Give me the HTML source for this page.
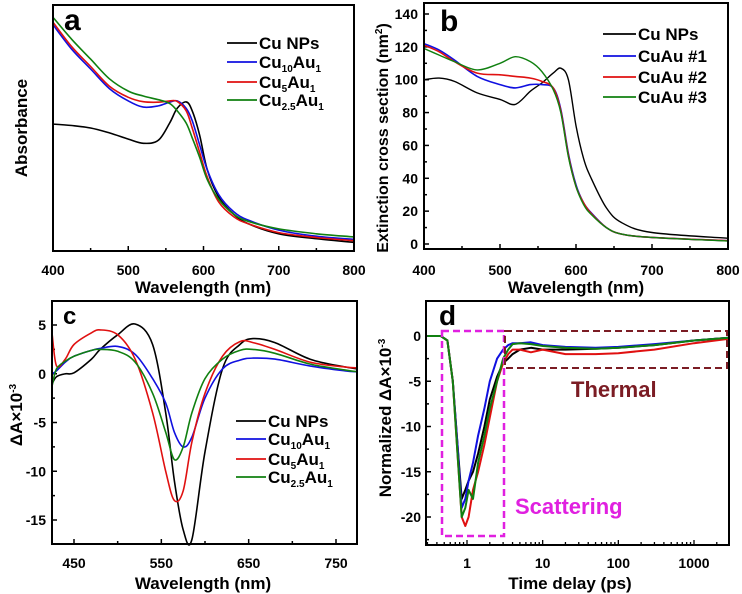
<!DOCTYPE html>
<html><head><meta charset="utf-8"><style>
html,body{margin:0;padding:0;background:#fff;}
svg{display:block;font-family:"Liberation Sans",Arial,sans-serif;font-weight:bold;}
</style></head><body>
<svg id="fig" width="742" height="594" viewBox="0 0 742 594" xmlns="http://www.w3.org/2000/svg"></svg>
<script>
// ---------- Panel a data ----------
const aWl=[400,425,450,475,500,520,540,555,565,577,585,595,605,620,640,660,700,750,800];
const aCu=[0.516,0.51,0.50,0.48,0.455,0.438,0.45,0.52,0.58,0.606,0.57,0.47,0.33,0.22,0.15,0.11,0.07,0.05,0.035];
const aCu10=[0.92,0.82,0.74,0.66,0.61,0.585,0.59,0.605,0.61,0.58,0.53,0.43,0.33,0.23,0.16,0.125,0.085,0.06,0.047];
const aCu5=[0.93,0.83,0.75,0.67,0.625,0.607,0.605,0.61,0.608,0.57,0.50,0.40,0.30,0.20,0.14,0.11,0.075,0.055,0.042];
const aCu25=[0.95,0.86,0.78,0.70,0.65,0.63,0.615,0.60,0.57,0.52,0.46,0.38,0.29,0.21,0.15,0.12,0.09,0.07,0.057];
const aTicks=[400,500,600,700,800];
// ---------- Panel b data ----------
const bWl=[400,420,440,470,500,520,540,555,570,580,590,600,610,620,640,660,700,800];
const bCu=[100,101,99,92,88,85,93,98,104,107,100,72,52,40,22,13,7,3.5];
const bAu1=[122,118,112,102,97,95,97,97,95,82,55,36,25,19,10,6,4,2];
const bAu2=[121,117,111,104,103,102,101,99,95,81,54,35,25,18.5,10,6,4,2];
const bAu3=[119,115,111,106,110,114,111,105,94,80,53,35,24,18,10,6,4,1.8];
const bXTicks=[400,500,600,700,800];
const bYTicks=[0,20,40,60,80,100,120,140];
// ---------- Panel c data ----------
const cWl=[425,430,440,450,470,480,500,520,540,555,565,575,585,600,620,640,655,680,720,760,775];
const cCu=[-1,-0.3,0,0.1,1.5,2.5,4,5.1,3,-4,-11,-16,-17,-8,0.5,3,3.6,3.2,1.5,0.7,0.5];
const cCu10=[0,0.3,1.2,1.8,2.4,2.6,2.8,2,-0.5,-3,-6,-7.5,-6.5,-2.5,0.5,1.4,1.6,1.5,0.8,0.3,0.2];
const cCu5=[4,0.8,1.5,3,4.2,4.5,4,1.5,-4,-10,-13,-12,-7,-2,1.8,3.3,3.2,2.5,1.2,0.7,0.6];
const cCu25=[-1.2,0.5,1.3,1.8,2.4,2.5,2.3,1.2,-2,-6,-8.8,-7.5,-4,-0.5,1.5,2.4,2.5,2.1,1.0,0.4,0.2];
const cXTicks=[450,550,650,750];
const cYTicks=[5,0,-5,-10,-15];
// ---------- Panel d data ----------
const dT=[0.3,0.45,0.55,0.65,0.75,0.85,0.95,1.05,1.2,1.4,1.7,2,2.5,3,3.5,4,5,7,10,20,50,100,300,1000,2900];
const dCu=[0,0,-0.5,-5,-12,-18,-17,-16,-15,-13,-10,-7,-4.5,-3,-2.5,-2,-1.5,-1.3,-1.5,-1.5,-1.4,-1.3,-1,-0.5,-0.2];
const dAu1=[0,0,-0.5,-5,-12,-19,-18,-16,-14,-11,-8,-5,-2.5,-1.5,-1,-0.8,-0.8,-0.7,-1,-1.2,-1.3,-1.2,-0.9,-0.5,-0.2];
const dAu2=[0,0,-0.5,-5,-13,-20,-21,-20,-17,-15,-12,-9,-5,-3,-2,-1.5,-1.5,-1.8,-1.5,-2,-2,-1.9,-1.5,-0.8,-0.3];
const dAu3=[0,0,-0.5,-5,-13,-20,-19,-17,-18,-14,-11,-8,-5,-2.5,-1.5,-0.9,-0.8,-0.9,-1.1,-1.3,-1.4,-1.3,-1,-0.5,-0.2];
const dXTicks=[1,10,100,1000];
const dYTicks=[0,-5,-10,-15,-20];

const NS="http://www.w3.org/2000/svg";
const svg=document.getElementById('fig');
function el(tag,attrs,parent,text){const e=document.createElementNS(NS,tag);for(const k in attrs)e.setAttribute(k,attrs[k]);if(text!==undefined)e.textContent=text;(parent||svg).appendChild(e);return e;}
function lin(d0,d1,r0,r1){return v=>r0+(v-d0)*(r1-r0)/(d1-d0);}
function logs(d0,d1,r0,r1){return v=>r0+(Math.log10(v)-Math.log10(d0))*(r1-r0)/(Math.log10(d1)-Math.log10(d0));}
function smoothPath(pts){
  let d='M'+pts[0][0].toFixed(1)+','+pts[0][1].toFixed(1);
  for(let i=0;i<pts.length-1;i++){
    const p0=pts[Math.max(0,i-1)],p1=pts[i],p2=pts[i+1],p3=pts[Math.min(pts.length-1,i+2)];
    const c1x=p1[0]+(p2[0]-p0[0])/6,c1y=p1[1]+(p2[1]-p0[1])/6;
    const c2x=p2[0]-(p3[0]-p1[0])/6,c2y=p2[1]-(p3[1]-p1[1])/6;
    d+=' C'+c1x.toFixed(1)+','+c1y.toFixed(1)+' '+c2x.toFixed(1)+','+c2y.toFixed(1)+' '+p2[0].toFixed(1)+','+p2[1].toFixed(1);
  }
  return d;
}
function series(g,xs,ys,sx,sy,color,name,w,smooth){
  const pts=xs.map((x,i)=>[sx(x),sy(ys[i])]);
  let p;
  if(smooth===false){
    p=el('polyline',{points:pts.map(q=>q[0].toFixed(1)+','+q[1].toFixed(1)).join(' '),fill:'none',stroke:color,'stroke-width':w||1.6,'stroke-linejoin':'round'},g);
  } else {
    p=el('path',{d:smoothPath(pts),fill:'none',stroke:color,'stroke-width':w||1.6,'stroke-linejoin':'round'},g);
  }
  
  
}
function frame(g,x0,y0,x1,y1){const r=el('rect',{x:x0,y:y0,width:x1-x0,height:y1-y0,fill:'none',stroke:'#000','stroke-width':2},g);}
function legend(g,items,x0,x1,ys,fs){
  items.forEach((it,i)=>{
    const lg=el('g',{},g);
    
    
    el('line',{x1:x0,x2:x1,y1:ys[i],y2:ys[i],stroke:it.c,'stroke-width':1.8},lg);
    const t=el('text',{x:x1+2,y:ys[i]+6,'font-size':fs,fill:'#000'},lg);
    it.parts.forEach(pt=>{el('tspan',pt[1]?{'font-size':10,dy:4}:{dy:pt[2]||0},t,pt[0]);});
  });
}
const black='#000',blue='#1010e0',red='#e01010',green='#108010';
const leg4=[{c:black,parts:[['Cu NPs']]},{c:blue,parts:[['Cu'],['10',1],['Au',0,-4],['1',1]]},{c:red,parts:[['Cu'],['5',1],['Au',0,-4],['1',1]]},{c:green,parts:[['Cu'],['2.5',1],['Au',0,-4],['1',1]]}];

// ===== Panel a =====
(function(){
  const g=el('g',{});
  const X0=53,X1=354,Y0=5,Y1=251;
  const sx=lin(400,800,X0,X1),sy=lin(0,1,Y1,Y0);
  for(let v=400;v<=800;v+=50){const big=v%100===0;el('line',{x1:sx(v),x2:sx(v),y1:Y1,y2:Y1-(big?5:3),stroke:'#000','stroke-width':1.5},g);}
  aTicks.forEach(v=>{const t=el('text',{x:sx(v),y:275,'font-size':14,'text-anchor':'middle'},g,v);});
  series(g,aWl,aCu,sx,sy,black,'series-cu-nps');
  series(g,aWl,aCu10,sx,sy,blue,'series-cu10au1');
  series(g,aWl,aCu5,sx,sy,red,'series-cu5au1');
  series(g,aWl,aCu25,sx,sy,green,'series-cu25au1');
  frame(g,X0,Y0,X1,Y1);
  let t=el('text',{x:203,y:293,'font-size':17,'text-anchor':'middle'},g,'Wavelength (nm)');
  t=el('text',{x:0,y:0,'font-size':17,'text-anchor':'middle',transform:'translate(27,128) rotate(-90)'},g,'Absorbance');
  t=el('text',{x:64,y:30,'font-size':30},g,'a');
  legend(g,leg4,227,257,[43,62,82,100],17);
})();

// ===== Panel b =====
(function(){
  const g=el('g',{});
  const X0=424,X1=728,Y0=3,Y1=249;
  const sx=lin(400,800,X0,X1),sy=lin(0,140,244,14);
  for(let v=400;v<=800;v+=50){const big=v%100===0;el('line',{x1:sx(v),x2:sx(v),y1:Y1,y2:Y1-(big?5:3),stroke:'#000','stroke-width':1.5},g);}
  for(let v=0;v<=140;v+=10){const big=v%20===0;el('line',{x1:X0,x2:X0+(big?5:3),y1:sy(v),y2:sy(v),stroke:'#000','stroke-width':1.5},g);}
  bXTicks.forEach(v=>{const t=el('text',{x:sx(v),y:275,'font-size':14,'text-anchor':'middle'},g,v);});
  bYTicks.forEach(v=>{const t=el('text',{x:418,y:sy(v)+5,'font-size':14,'text-anchor':'end'},g,v);});
  series(g,bWl,bCu,sx,sy,black,'series-cu-nps',1.4);
  series(g,bWl,bAu1,sx,sy,blue,'series-cuau-1');
  series(g,bWl,bAu2,sx,sy,red,'series-cuau-2');
  series(g,bWl,bAu3,sx,sy,green,'series-cuau-3',1.4);
  frame(g,X0,Y0,X1,Y1);
  let t=el('text',{x:576,y:293,'font-size':17,'text-anchor':'middle'},g,'Wavelength (nm)');
  t=el('text',{x:0,y:0,'font-size':16,'text-anchor':'middle',transform:'translate(388,138) rotate(-90)'},g);
  
  el('tspan',{},t,'Extinction cross section (nm');el('tspan',{'font-size':10,dy:-6},t,'2');el('tspan',{dy:6},t,')');
  t=el('text',{x:440,y:31,'font-size':30},g,'b');
  legend(g,[{c:black,parts:[['Cu NPs']]},{c:blue,parts:[['CuAu #1']]},{c:red,parts:[['CuAu #2']]},{c:green,parts:[['CuAu #3']]}],603,636,[34,56,77,97],17);
})();

// ===== Panel c =====
(function(){
  const g=el('g',{});
  const X0=52,X1=357,Y0=301,Y1=544;
  const sx=lin(450,750,74,336),sy=lin(5,-15,325,520);
  for(let v=450;v<=750;v+=50){const big=(v-450)%100===0;el('line',{x1:sx(v),x2:sx(v),y1:Y1,y2:Y1-(big?5:3),stroke:'#000','stroke-width':1.5},g);}
  for(let v=5;v>=-15;v-=2.5){const big=v%5===0;el('line',{x1:X0,x2:X0+(big?5:3),y1:sy(v),y2:sy(v),stroke:'#000','stroke-width':1.5},g);}
  cXTicks.forEach(v=>{const t=el('text',{x:sx(v),y:568,'font-size':14,'text-anchor':'middle'},g,v);});
  cYTicks.forEach(v=>{const t=el('text',{x:46,y:sy(v)+5,'font-size':14,'text-anchor':'end'},g,v);});
  series(g,cWl,cCu,sx,sy,black,'series-cu-nps');
  series(g,cWl,cCu10,sx,sy,blue,'series-cu10au1');
  series(g,cWl,cCu5,sx,sy,red,'series-cu5au1');
  series(g,cWl,cCu25,sx,sy,green,'series-cu25au1');
  frame(g,X0,Y0,X1,Y1);
  let t=el('text',{x:203,y:589,'font-size':17,'text-anchor':'middle'},g,'Wavelength (nm)');
  t=el('text',{x:0,y:0,'font-size':17,'text-anchor':'middle',transform:'translate(22,415) rotate(-90)'},g);
  
  el('tspan',{},t,'ΔA×10');el('tspan',{'font-size':10,dy:-6},t,'-3');
  t=el('text',{x:63,y:324,'font-size':24},g,'c');
  legend(g,leg4,236,266,[421,439,459,477],17);
})();

// ===== Panel d =====
(function(){
  const g=el('g',{});
  const X0=426,X1=729,Y0=301,Y1=545;
  const sx=logs(1,1000,467,694),sy=lin(0,-20,336,517);
  for(let dec=0.1;dec<=1000;dec*=10){for(let m=1;m<10;m++){const v=dec*m;const x=sx(v);if(x<X0||x>X1)continue;el('line',{x1:x,x2:x,y1:Y1,y2:Y1-(m===1?5:3),stroke:'#000','stroke-width':1.3},g);}}
  for(let v=0;v>=-22.5;v-=2.5){const big=v%5===0;el('line',{x1:X0,x2:X0+(big?5:3),y1:sy(v),y2:sy(v),stroke:'#000','stroke-width':1.5},g);}
  dXTicks.forEach(v=>{const t=el('text',{x:sx(v),y:568,'font-size':14,'text-anchor':'middle'},g,v);});
  dYTicks.forEach(v=>{const t=el('text',{x:421,y:sy(v)+5,'font-size':14,'text-anchor':'end'},g,v);});
  series(g,dT,dCu,sx,sy,black,'series-cu-nps',2,false);
  series(g,dT,dAu1,sx,sy,blue,'series-cu10au1',2,false);
  series(g,dT,dAu2,sx,sy,red,'series-cu5au1',2,false);
  series(g,dT,dAu3,sx,sy,green,'series-cu25au1',2,false);
  let r=el('rect',{x:442,y:331,width:62,height:205,fill:'none',stroke:'#e020e0','stroke-width':2.5,'stroke-dasharray':'7,4'},g);
  r=el('rect',{x:505,y:331,width:222,height:37,fill:'none',stroke:'#7b1c24','stroke-width':2,'stroke-dasharray':'7,4'},g);
  let t=el('text',{x:571,y:397,'font-size':22,fill:'#7b1c24'},g,'Thermal');
  t=el('text',{x:515,y:514,'font-size':22,fill:'#e020e0'},g,'Scattering');
  frame(g,X0,Y0,X1,Y1);
  t=el('text',{x:570,y:589,'font-size':17,'text-anchor':'middle'},g,'Time delay (ps)');
  t=el('text',{x:0,y:0,'font-size':17,'text-anchor':'middle',transform:'translate(391,418) rotate(-90)'},g);
  
  el('tspan',{},t,'Normalized ΔA×10');el('tspan',{'font-size':10,dy:-6},t,'-3');
  t=el('text',{x:439,y:325,'font-size':28},g,'d');
})();
</script>
</body></html>
